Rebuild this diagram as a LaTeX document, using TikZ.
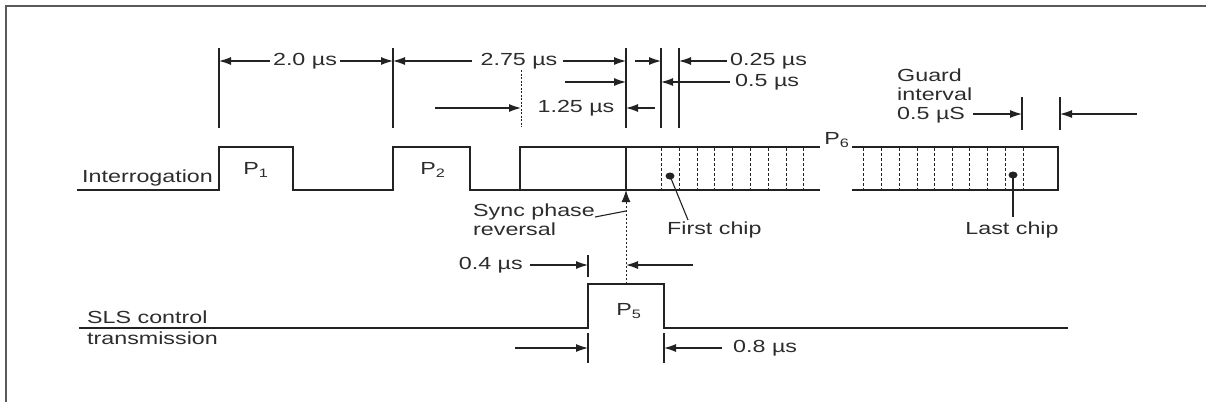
\documentclass[tikz,border=0pt]{standalone}
\usepackage{fontspec}
\setmainfont[FakeStretch=1.33]{Liberation Sans}
\usetikzlibrary{arrows.meta}
\definecolor{ink}{HTML}{222222}
\definecolor{txt}{HTML}{2C2C2C}
\definecolor{framec}{HTML}{5A5A5A}
\begin{document}
\begin{tikzpicture}[x=1pt,y=-1pt,
  wave/.style={ink,line width=2.4pt,line join=miter},
  dimln/.style={ink,line width=1.1pt},
  darr/.style={ink,line width=1.1pt,-{Latex[length=12pt,width=8pt]}},
  chipln/.style={ink,line width=1pt,dash pattern=on 3pt off 2pt},
  lbl/.style={font=\fontsize{17.5}{19}\selectfont,text=txt,inner sep=0pt},
  dotm/.style={ink,fill=ink}]
\useasboundingbox (0,0) rectangle (1206,402);
% frame
\coordinate (f0) at (6,6); \coordinate (f1) at (1206,6); \coordinate (f2) at (6,402);
\draw[framec,line width=1.4pt] (f2) -- (f0) -- (f1);

% ---------- Interrogation waveform ----------
\coordinate (i0) at (77,190);
\draw[wave] (i0) -- (219,190) -- (219,147) -- (293,147) -- (293,190) -- (393,190) -- (393,147)
  -- (470,147) -- (470,190) -- (520,190) -- (520,147) -- (820,147);
\draw[wave] (520,190) -- (820,190);
\draw[wave] (626,147) -- (626,190);
\draw[wave] (852,147) -- (1058,147) -- (1058,190) -- (852,190);
\foreach \x in {661,679,697,714,732,750,768,786,803,863,881,899,917,934,952,969,987,1005,1023}
  \draw[chipln] (\x,148) -- (\x,189);
\node[lbl,anchor=west] (interr) at (82,178) {Interrogation};
\node[lbl] (p1) at (256,170) {P\textsubscript{1}};
\node[lbl] (p2) at (433,170) {P\textsubscript{2}};
\node[lbl] (p6) at (837,140) {P\textsubscript{6}};

% ---------- top dimension ticks ----------
\foreach \x/\n in {219/a,393/b,626/c,661/d,679/e}{
  \coordinate (tt\n) at (\x,48); \coordinate (tb\n) at (\x,128);
  \draw[dimln] (tt\n) -- (tb\n);}
\coordinate (dt) at (521,70); \coordinate (db) at (521,127);
\draw[ink,line width=0.9pt,dash pattern=on 2pt off 1.5pt] (dt) -- (db);

% 2.0 us
\node[lbl] (d20) at (305,61) {2.0 µs};
\coordinate (d20l) at (219,61); \coordinate (d20r) at (393,61);
\draw[darr] (d20.west) ++(-3,0) -- (d20l);
\draw[darr] (d20.east) ++(3,0) -- (d20r);
% 2.75 us
\node[lbl] (d275) at (519,61) {2.75 µs};
\coordinate (d275l) at (393,61); \coordinate (d275r) at (626,61);
\draw[darr] (d275.west) ++(-8,0) -- (d275l);
\draw[darr] (d275.east) ++(5,0) -- (d275r);
% 0.25 us
\coordinate (a25s) at (635,61); \coordinate (a25e) at (661,61);
\draw[darr] (a25s) -- (a25e);
\node[lbl,anchor=west] (d025) at (730,61) {0.25 µs};
\coordinate (b25e) at (679,61);
\draw[darr] (d025.west) ++(-3,0) -- (b25e);
% 0.5 us
\coordinate (a5s) at (565,82); \coordinate (a5e) at (626,82);
\draw[darr] (a5s) -- (a5e);
\node[lbl,anchor=west] (d05) at (735,82) {0.5 µs};
\coordinate (b5e) at (661,82);
\draw[darr] (d05.west) ++(-5,0) -- (b5e);
% 1.25 us
\coordinate (a125s) at (435,108); \coordinate (a125e) at (521,108);
\draw[darr] (a125s) -- (a125e);
\node[lbl] (d125) at (576,108) {1.25 µs};
\coordinate (b125s) at (655,108); \coordinate (b125e) at (626,108);
\draw[darr] (b125s) -- (b125e);

% ---------- guard interval ----------
\node[lbl,anchor=west,align=left] (guard) at (897,96)
  {Guard\\interval\\0.5 µS};
\coordinate (gt1) at (1022,97); \coordinate (gb1) at (1022,130);
\coordinate (gt2) at (1060,97); \coordinate (gb2) at (1060,130);
\draw[dimln] (gt1) -- (gb1); \draw[dimln] (gt2) -- (gb2);
\coordinate (ga1s) at (973,114); \coordinate (ga1e) at (1022,114);
\coordinate (ga2s) at (1137,114); \coordinate (ga2e) at (1060,114);
\draw[darr] (ga1s) -- (ga1e); \draw[darr] (ga2s) -- (ga2e);

% ---------- chips ----------
\coordinate (fc) at (670,176); \coordinate (fcl) at (688,220);
\fill[dotm] (fc) ellipse (4.5 and 3.5);
\draw[dimln] (fc) -- (fcl);
\node[lbl,anchor=west] (first) at (667,230) {First chip};
\coordinate (lc) at (1013,175); \coordinate (lcl) at (1013,217);
\fill[dotm] (lc) ellipse (4.5 and 3.5);
\draw[dimln] (lc) -- (lcl);
\node[lbl] (last) at (1012,230) {Last chip};

% ---------- sync phase reversal ----------
\coordinate (syt) at (626,190); \coordinate (syb) at (626,284);
\draw[ink,line width=1pt,dash pattern=on 2.5pt off 1.5pt] (syb) -- (626,200);
\draw[ink,line width=1pt,-{Latex[length=12pt,width=9pt]}] (626,202) -- (syt);
\node[lbl,anchor=west,align=left] (sync) at (473,220) {Sync phase\\reversal};
\coordinate (syl) at (595,217); \coordinate (syr) at (626,211);
\draw[dimln] (syl) -- (syr);

% ---------- SLS control ----------
\coordinate (s0) at (79,328); \coordinate (s1) at (1068,328);
\draw[wave] (s0) -- (588,328) -- (588,284) -- (664,284) -- (664,328) -- (s1);
\node[lbl,anchor=west] (sls1) at (87,317) {SLS control};
\node[lbl,anchor=west] (sls2) at (87,338) {transmission};
\node[lbl] (p5) at (629,311) {P\textsubscript{5}};

% 0.4 us
\coordinate (t4t) at (588,255); \coordinate (t4b) at (588,277);
\draw[dimln] (t4t) -- (t4b);
\node[lbl,anchor=east] (d04) at (523,265) {0.4 µs};
\draw[darr] (d04.east) ++(7,0) -- (588,265);
\coordinate (b4s) at (693,265); \coordinate (b4e) at (626,265);
\draw[darr] (b4s) -- (b4e);

% 0.8 us
\coordinate (t8at) at (588,333); \coordinate (t8ab) at (588,363);
\coordinate (t8bt) at (664,333); \coordinate (t8bb) at (664,363);
\draw[dimln] (t8at) -- (t8ab); \draw[dimln] (t8bt) -- (t8bb);
\coordinate (a8s) at (515,348); \coordinate (a8e) at (588,348);
\draw[darr] (a8s) -- (a8e);
\node[lbl,anchor=west] (d08) at (733,348) {0.8 µs};
\draw[darr] (d08.west) ++(-11,0) -- (664,348);
\end{tikzpicture}
\end{document}
